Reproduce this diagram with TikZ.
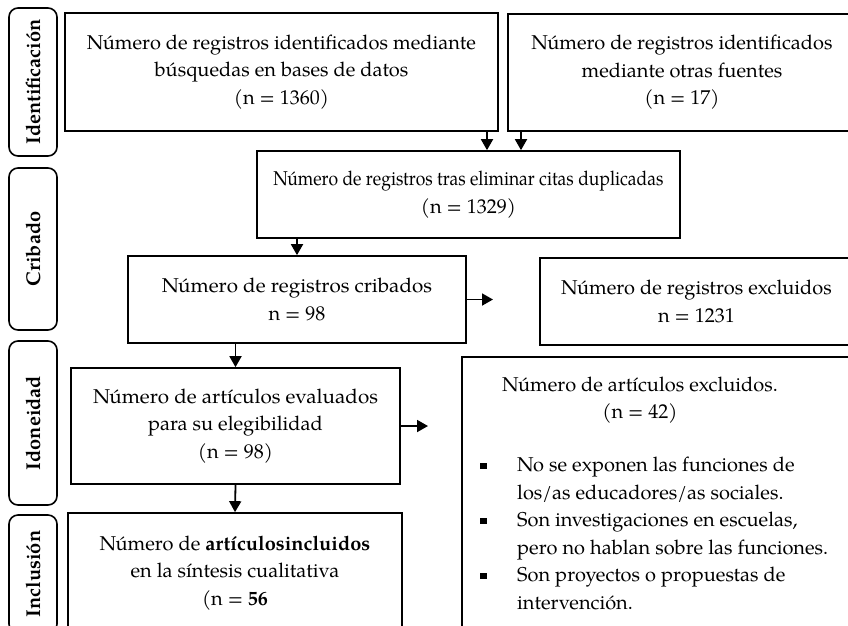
\documentclass[tikz,border=0pt]{standalone}
\usepackage{graphicx}
\usepackage{fontspec}
\setmainfont{TeX Gyre Pagella}
\usetikzlibrary{arrows.meta}
\begin{document}
\begin{tikzpicture}[x=1pt,y=-1pt,
  box/.style={draw, line width=1.7pt, inner sep=0pt, align=center, font=\fontsize{20}{27.5}\selectfont},
  side/.style={draw, line width=1.6pt, rounded corners=9pt, inner sep=0pt, rotate=90, font=\fontsize{20}{22}\selectfont\bfseries, minimum height=48pt},
  arr/.style={line width=1.8pt, -{Triangle[length=11pt,width=12pt]}},
  txt/.style={inner sep=0pt, align=center, font=\fontsize{20}{27.5}\selectfont}]
\useasboundingbox (0,0) rectangle (848,625);
\clip (0,0) rectangle (848,625);
\fill[white] (0,0) rectangle (848,625);
% side labels
\node[side, minimum width=148pt] (sId) at (33,82) {Identificación};
\node[side, minimum width=162pt] (sCr) at (33,249) {Cribado};
\node[side, minimum width=164pt] (sIdo) at (33,423) {Idoneidad};
\node[side, minimum width=118pt] (sIn) at (33,574) {Inclusión};
% boxes
\node[box, minimum width=433pt, minimum height=118pt] (box1) at (281.5,72) {Número de registros identificados mediante\\búsquedas en bases de datos\\(n = 1360)};
\node[box, minimum width=348pt, minimum height=117pt] (box2) at (682,72.5) {Número de registros identificados\\mediante otras fuentes\\(n = 17)};
\node[box, minimum width=423pt, minimum height=87pt] (box3) at (468.5,194.5) {\scalebox{0.875}[1]{Número de registros tras eliminar citas duplicadas}\\(n = 1329)};
\node[box, minimum width=338pt, minimum height=87pt] (box4) at (297,299.5) {\scalebox{1.03}[1]{Número de registros cribados}\\n = 98};
\node[box, minimum width=313pt, minimum height=87pt] (box5) at (696.5,301.5) {Número de registros excluidos\\n = 1231};
\node[box, minimum width=408pt, minimum height=303pt] (box6) at (666,508.5) {};
\node[txt] (box6t) at (640,400) {Número de artículos excluidos.\\(n = 42)};
\node[anchor=north west, inner sep=0pt, font=\fontsize{20}{27.5}\selectfont] (box6l) at (480,452.5) {%
\begin{tabular}{@{}p{37pt}@{}l@{}}
\rule[2.5pt]{6.5pt}{6.5pt} & No se exponen las funciones de\\
 & los/as educadores/as sociales.\\
\rule[2.5pt]{6.5pt}{6.5pt} & Son investigaciones en escuelas,\\
 & pero no hablan sobre las funciones.\\
\rule[2.5pt]{6.5pt}{6.5pt} & Son proyectos o propuestas de\\
 & intervención.
\end{tabular}};
\node[box, minimum width=329pt, minimum height=116pt] (box7) at (235.5,426) {\scalebox{1.03}[1]{Número de artículos evaluados}\\para su elegibilidad\\(n = 98)};
\node[box, minimum width=334pt, minimum height=120pt] (box8) at (235,573) {Número de \textbf{artículosincluidos}\\en la síntesis cualitativa\\(n = \textbf{56}};
% connectors
\coordinate (a1) at (487,0);
\coordinate (a2) at (521,0);
\coordinate (e1) at (493,299.5);
\coordinate (e2) at (428,426);
\draw[arr] (box1.south -| a1) -- (box3.north -| a1);
\draw[arr] (box2.south -| a2) -- (box3.north -| a2);
\draw[arr] (box3.south -| box4.north) -- (box4.north);
\draw[arr] (box4.east) -- (e1);
\draw[arr] (box4.south -| box7.north) -- (box7.north);
\draw[arr] (box7.east) -- (e2);
\draw[arr] (box7.south) -- (box8.north);
\end{tikzpicture}
\end{document}
